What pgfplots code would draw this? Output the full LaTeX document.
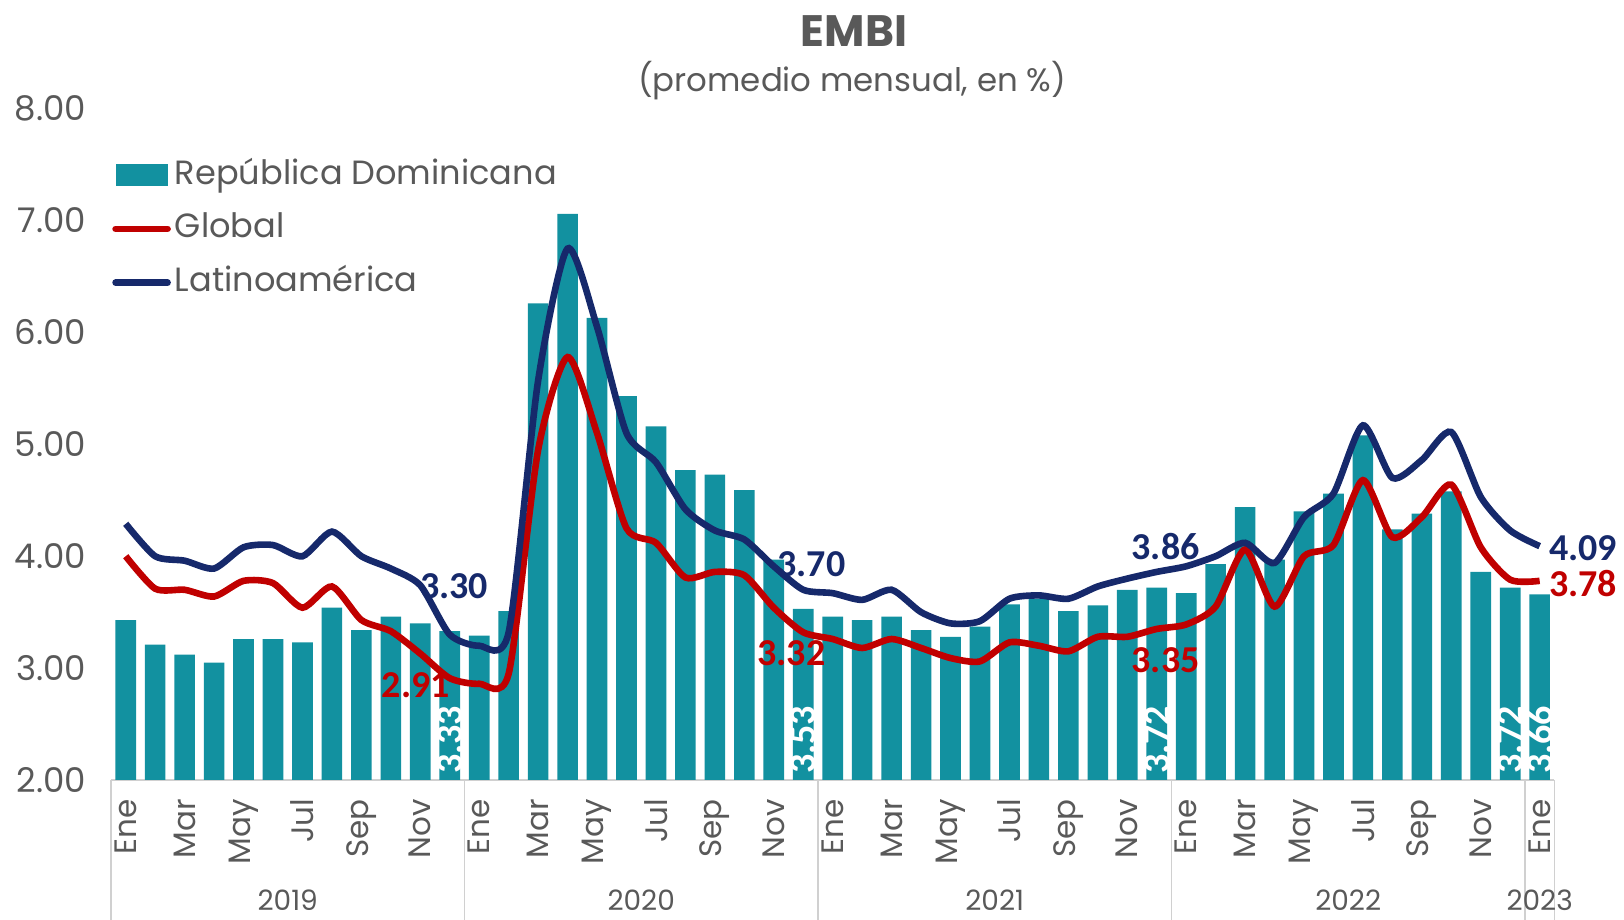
\documentclass[border=0pt]{standalone}
\usepackage{fontspec}
\setmainfont{Poppins}
\newfontfamily\lab{Carlito}
\usepackage{pgfplots}
\usepackage{pgfplotstable}
\pgfplotsset{compat=1.18}
\definecolor{barc}{HTML}{1291A0}
\definecolor{navy}{HTML}{16296B}
\definecolor{redc}{HTML}{C00000}
\definecolor{txt}{HTML}{595959}
\definecolor{sep}{HTML}{D0D0D0}

\pgfplotstableread{
x dr gl la
0 3.43 4.00 4.29
1 3.21 3.71 4.00
2 3.12 3.70 3.96
3 3.05 3.64 3.89
4 3.26 3.78 4.08
5 3.26 3.76 4.10
6 3.23 3.54 4.00
7 3.54 3.73 4.22
8 3.34 3.43 4.00
9 3.46 3.33 3.89
10 3.40 3.13 3.74
11 3.33 2.91 3.30
12 3.29 2.86 3.20
13 3.51 2.95 3.32
14 6.26 4.95 5.57
15 7.06 5.78 6.75
16 6.13 5.10 6.05
17 5.43 4.25 5.10
18 5.16 4.12 4.84
19 4.77 3.81 4.42
20 4.73 3.86 4.23
21 4.59 3.83 4.15
22 3.97 3.54 3.91
23 3.53 3.32 3.70
24 3.46 3.26 3.67
25 3.43 3.18 3.61
26 3.46 3.26 3.70
27 3.34 3.18 3.50
28 3.28 3.09 3.40
29 3.37 3.06 3.42
30 3.57 3.23 3.62
31 3.62 3.20 3.65
32 3.51 3.15 3.62
33 3.56 3.28 3.73
34 3.70 3.28 3.80
35 3.72 3.35 3.86
36 3.67 3.39 3.91
37 3.93 3.55 4.00
38 4.44 4.06 4.12
39 3.97 3.55 3.94
40 4.40 4.00 4.35
41 4.56 4.10 4.56
42 5.08 4.68 5.17
43 4.24 4.17 4.70
44 4.38 4.35 4.86
45 4.58 4.64 5.11
46 3.86 4.08 4.53
47 3.72 3.79 4.23
48 3.66 3.78 4.09
}\data

\begin{document}
\begin{tikzpicture}
\useasboundingbox (-55.5pt,-70pt) rectangle (756.5pt,390pt);
\begin{axis}[
  at={(0pt,0pt)}, anchor=south west,
  scale only axis, width=721.7pt, height=335.65pt,
  xmin=-0.5, xmax=48.5, ymin=2, ymax=8,
  clip mode=individual,
  axis lines*=left,
  y axis line style={draw=none},
  x axis line style={draw=sep, line width=0.8pt},
  ytick={2,3,...,8},
  ytick style={draw=none},
  xtick style={draw=none},
  /pgf/number format/assume math mode=true,
  yticklabel style={/pgf/number format/.cd, fixed, fixed zerofill, precision=2, /tikz/.cd,
     font=\fontsize{17}{17}\selectfont, text=txt, xshift=-9pt},
  xtick={0,2,...,48},
  xticklabels={Ene,Mar,May,Jul,Sep,Nov,Ene,Mar,May,Jul,Sep,Nov,Ene,Mar,May,Jul,Sep,Nov,Ene,Mar,May,Jul,Sep,Nov,Ene},
  xticklabel style={yshift=-6pt, rotate=90, anchor=east, font=\fontsize{15.5}{15.5}\selectfont, text=txt},
  legend style={at={(axis description cs:0.002,0.939)}, anchor=north west, xshift=-4pt, draw=none, fill=none,
     font=\fontsize{16.8}{16.8}\selectfont, text=txt, row sep=5.9pt,
     nodes={text height=13pt, text depth=4pt, inner sep=2pt},
     /tikz/every odd column/.append style={column sep=0pt}},
  legend cell align=left,
]
\addplot[ybar, bar width=0.7, fill=barc, draw=none,
  legend image code/.code={\fill[barc] (0pt,-5.5pt) rectangle (26pt,5.5pt);}]
  table[x=x,y=dr]{\data};
\addlegendentry{República Dominicana}
\addplot[redc, line width=3.3pt, smooth, tension=0.42,
  legend image code/.code={\draw[line cap=round] (0pt,0pt) -- (26pt,0pt);}]
  table[x=x,y=gl]{\data};
\addlegendentry{Global}
\addplot[navy, line width=3.3pt, smooth, tension=0.42,
  legend image code/.code={\draw[line cap=round] (0pt,0pt) -- (26pt,0pt);}]
  table[x=x,y=la]{\data};
\addlegendentry{Latinoamérica}

% separators
\draw[sep, line width=0.8pt] (axis cs:-0.5,2) -- ++(0pt,-70pt);
\draw[sep, line width=0.8pt] (axis cs:11.5,2) -- ++(0pt,-70pt);
\draw[sep, line width=0.8pt] (axis cs:23.5,2) -- ++(0pt,-70pt);
\draw[sep, line width=0.8pt] (axis cs:35.5,2) -- ++(0pt,-70pt);
\draw[sep, line width=0.8pt] (axis cs:47.5,2) -- ++(0pt,-70pt);
\draw[sep, line width=0.8pt] (axis cs:48.5,2) -- ++(0pt,-70pt);
% years
\tikzset{yr/.style={font=\fontsize{14}{14}\selectfont, text=txt, yshift=-60pt}}
\node[yr] at (axis cs:5.5,2) {2019};
\node[yr] at (axis cs:17.5,2) {2020};
\node[yr] at (axis cs:29.5,2) {2021};
\node[yr] at (axis cs:41.5,2) {2022};
\node[yr] at (axis cs:48,2) {2023};
% line labels
\tikzset{lbl/.style={font=\lab\bfseries\fontsize{19}{19}\selectfont, inner sep=0pt}}
\node[lbl, text=navy] at (axis cs:11.15,3.73) {3.30};
\node[lbl, text=redc] at (axis cs:9.85,2.85) {2.91};
\node[lbl, text=navy] at (axis cs:23.28,3.93) {3.70};
\node[lbl, text=redc] at (axis cs:22.6,3.13) {3.32};
\node[lbl, text=navy] at (axis cs:35.3,4.09) {3.86};
\node[lbl, text=redc] at (axis cs:35.3,3.07) {3.35};
\node[lbl, text=navy] at (axis cs:49.47,4.07) {4.09};
\node[lbl, text=redc] at (axis cs:49.47,3.76) {3.78};
% bar labels
\tikzset{blbl/.style={font=\lab\bfseries\fontsize{19}{19}\selectfont, inner sep=0pt, text=white, rotate=90}}
\node[blbl] at (axis cs:11,2.36) {3.33};
\node[blbl] at (axis cs:23,2.36) {3.53};
\node[blbl] at (axis cs:35,2.36) {3.72};
\node[blbl] at (axis cs:47,2.36) {3.72};
\node[blbl] at (axis cs:48,2.36) {3.66};
\end{axis}
\node[font=\bfseries\fontsize{22}{22}\selectfont, text=txt] at (371.5pt,374.5pt) {EMBI};
\node[font=\fontsize{16.2}{16.2}\selectfont, text=txt] at (370.5pt,349.5pt) {(promedio mensual, en \%)};
\end{tikzpicture}
\end{document}
